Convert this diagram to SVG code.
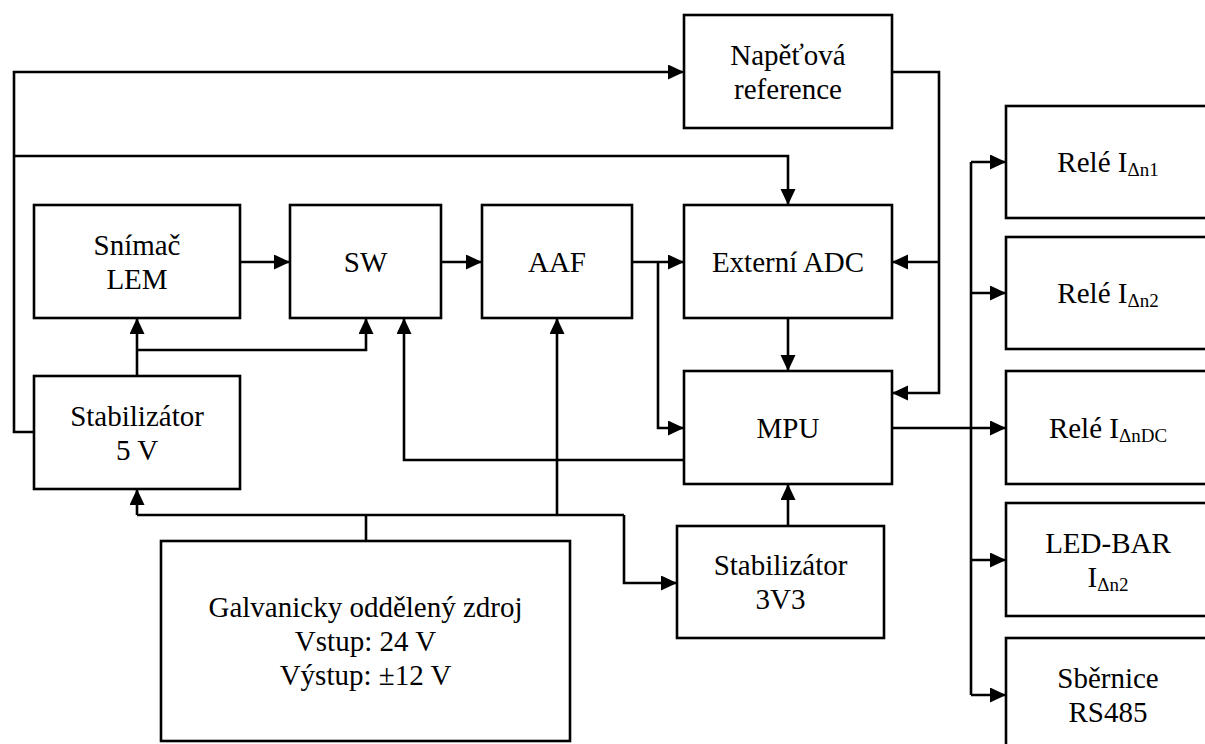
<svg xmlns="http://www.w3.org/2000/svg" width="1205" height="744" viewBox="0 0 1205 744">
<style>
.box{fill:#fff;stroke:#000;stroke-width:2.6}
text{font-family:'Liberation Serif','Times New Roman',Tinos,'DejaVu Serif',serif;font-size:29px;fill:#000;text-anchor:middle}
.sub{font-size:19px}
.c{fill:none;stroke:#000;stroke-width:2.6}
</style>
<defs>
<marker id="ah" markerUnits="userSpaceOnUse" markerWidth="17" markerHeight="16" refX="16" refY="7.5" orient="auto">
<path d="M0,0 L16,7.5 L0,15 z" fill="#000"/>
</marker>
</defs>
<rect width="1205" height="744" fill="#fff"/>
<g id="connectors">
<path class="c" d="M34,432 H14 V72 H684" marker-end="url(#ah)"/>
<path class="c" d="M14,156 H788 V205" marker-end="url(#ah)"/>
<path class="c" d="M240,262 H290" marker-end="url(#ah)"/>
<path class="c" d="M441,262 H482" marker-end="url(#ah)"/>
<path class="c" d="M632,262 H684" marker-end="url(#ah)"/>
<path class="c" d="M658,262 V428 H684" marker-end="url(#ah)"/>
<path class="c" d="M788,318 V371" marker-end="url(#ah)"/>
<path class="c" d="M892,72 H939 V393 H892" marker-end="url(#ah)"/>
<path class="c" d="M939,262 H892" marker-end="url(#ah)"/>
<path class="c" d="M137,376 V318" marker-end="url(#ah)"/>
<path class="c" d="M137,350 H366 V318" marker-end="url(#ah)"/>
<path class="c" d="M684,460 H404 V318" marker-end="url(#ah)"/>
<path class="c" d="M366,541 V515"/>
<path class="c" d="M137,515 H624"/>
<path class="c" d="M137,515 V489" marker-end="url(#ah)"/>
<path class="c" d="M557,515 V318" marker-end="url(#ah)"/>
<path class="c" d="M624,515 V583 H677" marker-end="url(#ah)"/>
<path class="c" d="M788,526 V484" marker-end="url(#ah)"/>
<path class="c" d="M892,428 H1006" marker-end="url(#ah)"/>
<path class="c" d="M971,162 V695"/>
<path class="c" d="M971,162 H1006" marker-end="url(#ah)"/>
<path class="c" d="M971,293 H1006" marker-end="url(#ah)"/>
<path class="c" d="M971,560 H1006" marker-end="url(#ah)"/>
<path class="c" d="M971,695 H1006" marker-end="url(#ah)"/>
</g>
<g id="napetova-reference">
<rect class="box" x="684" y="15" width="208" height="113"/>
<text x="788" y="64.5" font-family="Liberation Serif, serif">Napěťová</text>
<text x="788" y="98.5" font-family="Liberation Serif, serif">reference</text>
</g>
<g id="snimac-lem">
<rect class="box" x="34" y="205" width="206" height="113"/>
<text x="137" y="254.5" font-family="Liberation Serif, serif">Snímač</text>
<text x="137" y="288.5" font-family="Liberation Serif, serif">LEM</text>
</g>
<g id="sw">
<rect class="box" x="290" y="205" width="151" height="113"/>
<text x="365.5" y="271.5" font-family="Liberation Serif, serif">SW</text>
</g>
<g id="aaf">
<rect class="box" x="482" y="205" width="150" height="113"/>
<text x="557" y="271.5" font-family="Liberation Serif, serif">AAF</text>
</g>
<g id="externi-adc">
<rect class="box" x="684" y="205" width="208" height="113"/>
<text x="788" y="271.5" font-family="Liberation Serif, serif">Externí ADC</text>
</g>
<g id="stabilizator-5v">
<rect class="box" x="34" y="376" width="206" height="113"/>
<text x="137" y="425.5" font-family="Liberation Serif, serif">Stabilizátor</text>
<text x="137" y="459.5" font-family="Liberation Serif, serif">5 V</text>
</g>
<g id="mpu">
<rect class="box" x="684" y="371" width="208" height="113"/>
<text x="788" y="437.5" font-family="Liberation Serif, serif">MPU</text>
</g>
<g id="stabilizator-3v3">
<rect class="box" x="677" y="526" width="207" height="112"/>
<text x="780.5" y="575" font-family="Liberation Serif, serif">Stabilizátor</text>
<text x="780.5" y="609" font-family="Liberation Serif, serif">3V3</text>
</g>
<g id="galvanicky-zdroj">
<rect class="box" x="161" y="541" width="409" height="200"/>
<text x="365.5" y="617" font-family="Liberation Serif, serif">Galvanicky oddělený zdroj</text>
<text x="365.5" y="651" font-family="Liberation Serif, serif">Vstup: 24 V</text>
<text x="365.5" y="685" font-family="Liberation Serif, serif">Výstup: ±12 V</text>
</g>
<g id="rele-1">
<rect class="box" x="1006" y="106" width="210" height="112"/>
<text x="1108" y="172" font-family="Liberation Serif, serif">Relé I<tspan class="sub" dy="4">Δn1</tspan></text>
</g>
<g id="rele-2">
<rect class="box" x="1006" y="237" width="210" height="112"/>
<text x="1108" y="303" font-family="Liberation Serif, serif">Relé I<tspan class="sub" dy="4">Δn2</tspan></text>
</g>
<g id="rele-dc">
<rect class="box" x="1006" y="371" width="210" height="113"/>
<text x="1108" y="437.5" font-family="Liberation Serif, serif">Relé I<tspan class="sub" dy="4">ΔnDC</tspan></text>
</g>
<g id="led-bar">
<rect class="box" x="1006" y="503" width="210" height="113"/>
<text x="1108" y="552.5" font-family="Liberation Serif, serif">LED-BAR</text>
<text x="1108" y="586.5" font-family="Liberation Serif, serif">I<tspan class="sub" dy="4">Δn2</tspan></text>
</g>
<g id="sbernice">
<rect class="box" x="1006" y="638" width="210" height="113"/>
<text x="1108" y="688" font-family="Liberation Serif, serif">Sběrnice</text>
<text x="1108" y="722" font-family="Liberation Serif, serif">RS485</text>
</g>
</svg>
